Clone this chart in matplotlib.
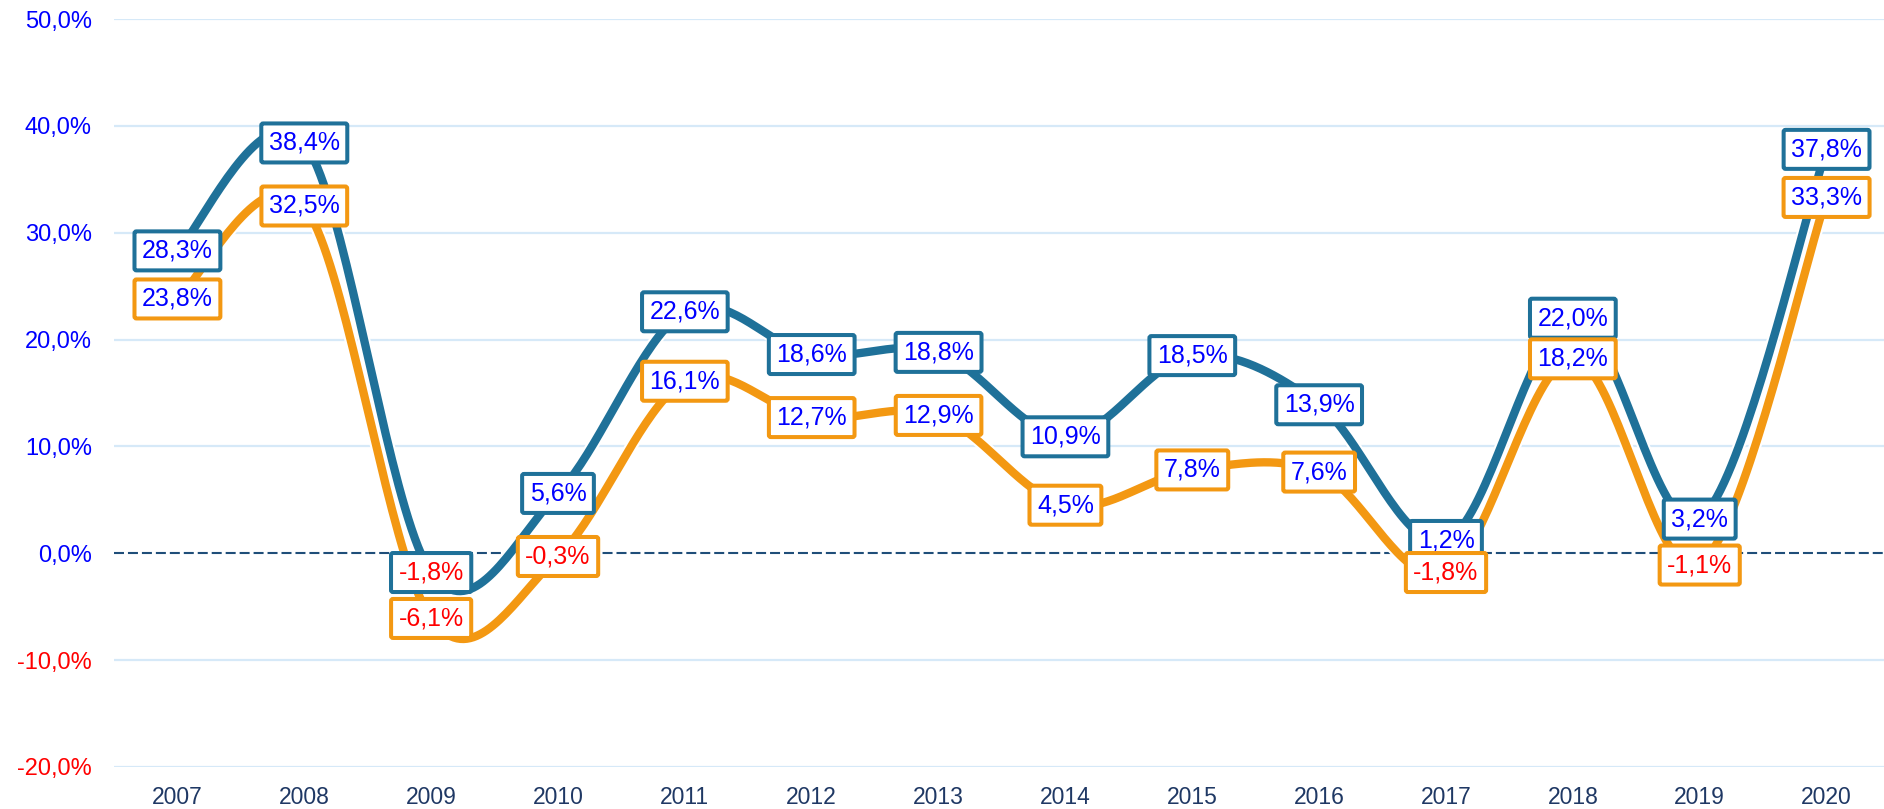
import numpy as np
import matplotlib
matplotlib.use("Agg")
import matplotlib.pyplot as plt

# data
years = ["2007", "2008", "2009", "2010", "2011", "2012", "2013",
         "2014", "2015", "2016", "2017", "2018", "2019", "2020"]
blue_vals = [28.3, 38.4, -1.8, 5.6, 22.6, 18.6, 18.8, 10.9, 18.5, 13.9, 1.2, 22.0, 3.2, 37.8]
orange_vals = [23.8, 32.5, -6.1, -0.3, 16.1, 12.7, 12.9, 4.5, 7.8, 7.6, -1.8, 18.2, -1.1, 33.3]
y_ticks = [-20, -10, 0, 10, 20, 30, 40, 50]

BLUE = "#1F7199"
ORANGE = "#F39812"
NAVY = "#1F3864"
ZERO = "#1F4E79"
GRID = "#D6E9F8"

plt.rcParams["font.family"] = ["Liberation Sans", "DejaVu Sans"]


def smooth(x, y, n=40):
    # Excel-style smoothed line: cubic bezier with catmull-rom control points
    x = np.asarray(x, float)
    y = np.asarray(y, float)
    pts = np.column_stack([x, y])
    out = []
    for i in range(len(pts) - 1):
        p0 = pts[i - 1] if i > 0 else pts[i]
        p1 = pts[i]
        p2 = pts[i + 1]
        p3 = pts[i + 2] if i + 2 < len(pts) else pts[i + 1]
        c1 = p1 + (p2 - p0) / 6.0
        c2 = p2 - (p3 - p1) / 6.0
        t = np.linspace(0, 1, n)[:, None]
        seg = ((1 - t) ** 3) * p1 + 3 * ((1 - t) ** 2) * t * c1 + 3 * (1 - t) * t ** 2 * c2 + t ** 3 * p2
        out.append(seg if i == 0 else seg[1:])
    seg = np.vstack(out)
    return seg[:, 0], seg[:, 1]


def fmt(v):
    return f"{v:.1f}".replace(".", ",") + "%"


fig = plt.figure(figsize=(18.84, 8.09), dpi=100)
ax = fig.add_axes([114 / 1884, 42 / 809, 1776 / 1884, 748 / 809])

xs = np.arange(len(years))
ax.set_xlim(-0.5, len(years) - 0.5)
ax.set_ylim(-20, 50)

for yv in y_ticks:
    if yv != 0:
        ax.axhline(yv, color=GRID, lw=1.6, zorder=1)
ax.axhline(0, color=ZERO, lw=1.5, dashes=(4.8, 1.9), zorder=1.5)

for vals, col in [(blue_vals, BLUE), (orange_vals, ORANGE)]:
    sx, sy = smooth(xs, vals)
    ax.plot(sx, sy, color="white", lw=9, solid_capstyle="round", zorder=2)
    ax.plot(sx, sy, color=col, lw=6, solid_capstyle="round", zorder=2.1)

for vals, col, z in [(blue_vals, BLUE, 3), (orange_vals, ORANGE, 4)]:
    for x, v in zip(xs, vals):
        ax.text(x, v, fmt(v), ha="center", va="center", fontsize=18,
                color="#FF0000" if v < 0 else "#0000FF", zorder=z,
                bbox=dict(boxstyle="round,pad=0.3,rounding_size=0.08",
                          fc="white", ec=col, lw=2.9))

ax.set_xticks(xs)
ax.set_xticklabels(years, fontsize=16.5, color=NAVY)
ax.set_yticks(y_ticks)
ax.set_yticklabels([fmt(v) for v in y_ticks], fontsize=17)
for lab, v in zip(ax.get_yticklabels(), y_ticks):
    lab.set_color("#FF0000" if v < 0 else "#0000FF")
ax.tick_params(axis="both", length=0)
ax.tick_params(axis="y", pad=16)
ax.tick_params(axis="x", pad=14)
for s in ax.spines.values():
    s.set_visible(False)

fig.savefig("out.png", dpi=100)
